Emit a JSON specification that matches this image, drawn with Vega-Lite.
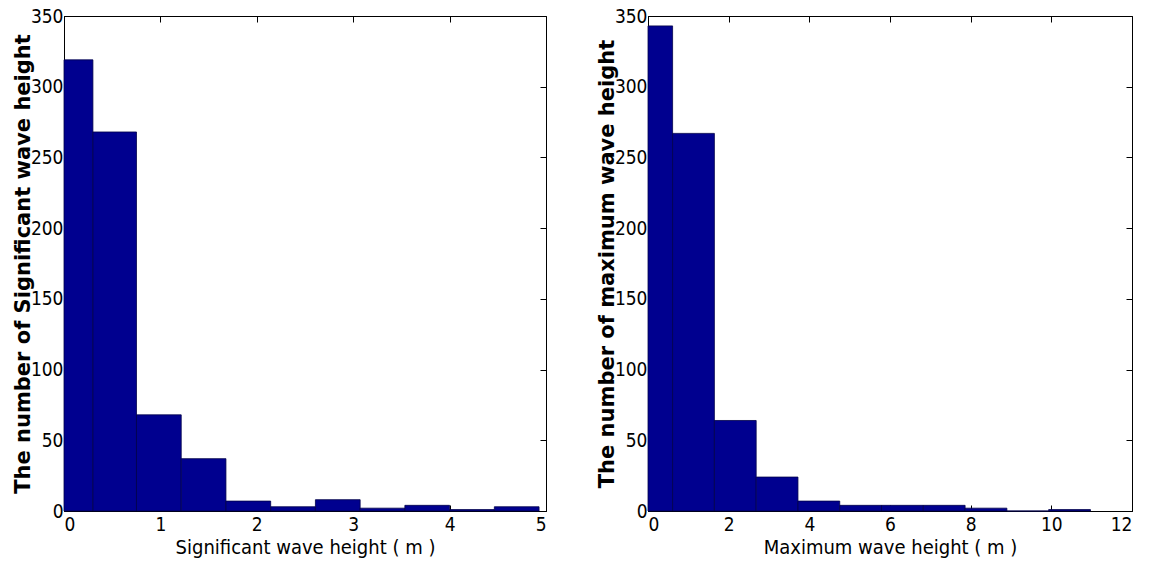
{
  "$schema": "https://vega.github.io/schema/vega-lite/v6.json",
  "background": "white",
  "padding": {"left": 11, "top": 6, "right": 5, "bottom": 0},
  "bounds": "flush",
  "spacing": 102,
  "datasets": {
    "hs": [
      {"x0": 0.0, "x1": 0.3, "count": 319},
      {"x0": 0.3, "x1": 0.752, "count": 268},
      {"x0": 0.752, "x1": 1.216, "count": 68},
      {"x0": 1.216, "x1": 1.68, "count": 37},
      {"x0": 1.68, "x1": 2.144, "count": 7},
      {"x0": 2.144, "x1": 2.608, "count": 3},
      {"x0": 2.608, "x1": 3.072, "count": 8},
      {"x0": 3.072, "x1": 3.536, "count": 2},
      {"x0": 3.536, "x1": 4.0, "count": 4},
      {"x0": 4.0, "x1": 4.464, "count": 1},
      {"x0": 4.464, "x1": 4.928, "count": 3}
    ],
    "hmax": [
      {"x0": 0.0, "x1": 0.61, "count": 343},
      {"x0": 0.61, "x1": 1.646, "count": 267},
      {"x0": 1.646, "x1": 2.682, "count": 64},
      {"x0": 2.682, "x1": 3.718, "count": 24},
      {"x0": 3.718, "x1": 4.754, "count": 7},
      {"x0": 4.754, "x1": 5.79, "count": 4},
      {"x0": 5.79, "x1": 6.826, "count": 4},
      {"x0": 6.826, "x1": 7.862, "count": 4},
      {"x0": 7.862, "x1": 8.898, "count": 2},
      {"x0": 8.898, "x1": 9.934, "count": 0},
      {"x0": 9.934, "x1": 10.97, "count": 1}
    ]
  },
  "config": {
    "view": {"stroke": "#000000", "strokeWidth": 1},
    "font": "DejaVu Sans Condensed, Liberation Sans, sans-serif",
    "axis": {
      "grid": false,
      "domainColor": "#000000",
      "tickColor": "#000000",
      "tickSize": -6,
      "labelFont": "DejaVu Sans Condensed, Liberation Sans, sans-serif",
      "labelFontSize": 19,
      "labelColor": "#000000",
      "titleColor": "#000000"
    },
    "axisX": {
      "labelPadding": 10,
      "labelAngle": 0,
      "titleFont": "DejaVu Sans Condensed, Liberation Sans, sans-serif",
      "titleFontSize": 20,
      "titleFontWeight": "normal",
      "titlePadding": 3
    },
    "axisY": {
      "labelPadding": 7,
      "titleFont": "DejaVu Sans, sans-serif",
      "titleFontSize": 21,
      "titleFontWeight": "bold",
      "titleX": -35,
      "titleBaseline": "alphabetic"
    }
  },
  "hconcat": [
    {
      "width": 482,
      "height": 495,
      "data": {"name": "hs"},
      "resolve": {"scale": {"x": "independent", "y": "independent"}},
      "layer": [
        {
          "mark": {"type": "bar", "fill": "#00008F", "stroke": "#00004A", "strokeWidth": 0.8},
          "encoding": {
            "x": {
              "field": "x0",
              "type": "quantitative",
              "scale": {"domain": [0, 5], "nice": false, "zero": false},
              "axis": {"values": [0, 1, 2, 3, 4, 5], "title": "Significant wave height ( m )"}
            },
            "x2": {"field": "x1"},
            "y": {
              "field": "count",
              "type": "quantitative",
              "scale": {"domain": [0, 350], "nice": false},
              "axis": {"values": [0, 50, 100, 150, 200, 250, 300, 350], "title": "The number of Significant wave height"}
            },
            "y2": {"datum": 0}
          }
        },
        {
          "mark": {"type": "point", "opacity": 0},
          "encoding": {
            "x": {
              "field": "x0",
              "type": "quantitative",
              "scale": {"domain": [0, 5], "nice": false, "zero": false},
              "axis": {"orient": "top", "values": [0, 1, 2, 3, 4, 5], "labels": false, "title": null, "domain": false}
            },
            "y": {
              "field": "count",
              "type": "quantitative",
              "scale": {"domain": [0, 350], "nice": false},
              "axis": {"orient": "right", "values": [0, 50, 100, 150, 200, 250, 300, 350], "labels": false, "title": null, "domain": false}
            }
          }
        }
      ]
    },
    {
      "width": 484,
      "height": 495,
      "data": {"name": "hmax"},
      "resolve": {"scale": {"x": "independent", "y": "independent"}},
      "layer": [
        {
          "mark": {"type": "bar", "fill": "#00008F", "stroke": "#00004A", "strokeWidth": 0.8},
          "encoding": {
            "x": {
              "field": "x0",
              "type": "quantitative",
              "scale": {"domain": [0, 12], "nice": false, "zero": false},
              "axis": {"values": [0, 2, 4, 6, 8, 10, 12], "title": "Maximum wave height ( m )"}
            },
            "x2": {"field": "x1"},
            "y": {
              "field": "count",
              "type": "quantitative",
              "scale": {"domain": [0, 350], "nice": false},
              "axis": {"values": [0, 50, 100, 150, 200, 250, 300, 350], "title": "The number of maximum wave height"}
            },
            "y2": {"datum": 0}
          }
        },
        {
          "mark": {"type": "point", "opacity": 0},
          "encoding": {
            "x": {
              "field": "x0",
              "type": "quantitative",
              "scale": {"domain": [0, 12], "nice": false, "zero": false},
              "axis": {"orient": "top", "values": [0, 2, 4, 6, 8, 10, 12], "labels": false, "title": null, "domain": false}
            },
            "y": {
              "field": "count",
              "type": "quantitative",
              "scale": {"domain": [0, 350], "nice": false},
              "axis": {"orient": "right", "values": [0, 50, 100, 150, 200, 250, 300, 350], "labels": false, "title": null, "domain": false}
            }
          }
        }
      ]
    }
  ]
}
